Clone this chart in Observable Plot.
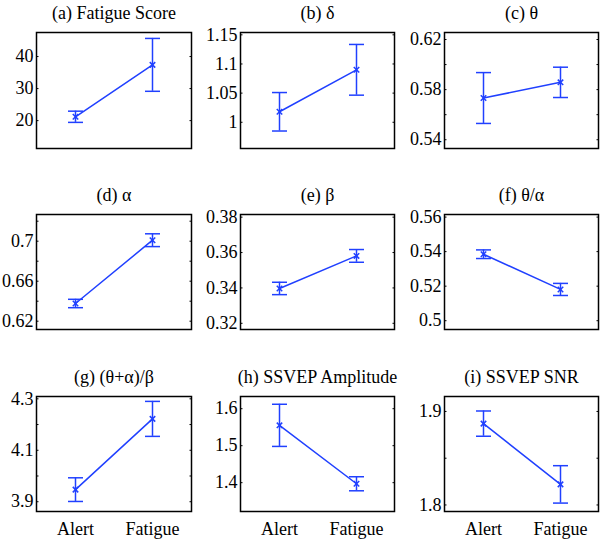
<!DOCTYPE html>
<html>
<head>
<meta charset="utf-8">
<script src="https://cdn.jsdelivr.net/npm/d3@7"></script>
<script src="https://cdn.jsdelivr.net/npm/@observablehq/plot@0.6"></script>
<style>
  body { margin: 0; background: #fff; }
  #chart { position: relative; width: 600px; height: 539px; background: #fff; overflow: hidden;
           font-family: "Liberation Serif", "Times New Roman", Times, serif; }
  #chart > div { position: absolute; }
  #chart svg { overflow: visible; max-width: none; }
  #chart svg, #chart svg text { font-family: "Liberation Serif", "Times New Roman", Times, serif !important; }
</style>
</head>
<body>
<div id="chart"></div>
<script>
// ---------------- data ----------------
const groups = ["Alert", "Fatigue"];
const titles = ["(a) Fatigue Score", "(b) δ", "(c) θ", "(d) α", "(e) β", "(f) θ/α",
                "(g) (θ+α)/β", "(h) SSVEP Amplitude", "(i) SSVEP SNR"];
const alertMean   = [21.2, 1.018, 0.5733, 0.6377, 0.3397, 0.5385, 3.947, 1.555, 1.887];
const fatigueMean = [37.4, 1.090, 0.5858, 0.7010, 0.3581, 0.5181, 4.222, 1.397, 1.822];
const alertErr    = [1.75, 0.033, 0.0203, 0.0042, 0.0035, 0.0025, 0.046, 0.057, 0.0135];
const fatigueErr  = [8.25, 0.0435, 0.0121, 0.0064, 0.0036, 0.0035, 0.068, 0.019, 0.020];
const yDomains = [[11.3, 47.5], [0.955, 1.154], [0.533, 0.6256], [0.6117, 0.7267], [0.3165, 0.3815],
                  [0.4949, 0.5615], [3.862, 4.309], [1.322, 1.633], [1.793, 1.916]];
const yTicks = [
  [20, 30, 40], [1, 1.05, 1.1, 1.15], [0.54, 0.56, 0.58, 0.6, 0.62], [0.62, 0.64, 0.66, 0.68, 0.7, 0.72],
  [0.32, 0.34, 0.36, 0.38], [0.5, 0.52, 0.54, 0.56], [3.9, 4.0, 4.1, 4.2, 4.3], [1.4, 1.5, 1.6], [1.8, 1.85, 1.9]
];
const yTickLabels = [
  [20, 30, 40], [1, 1.05, 1.1, 1.15], [0.54, 0.58, 0.62], [0.62, 0.66, 0.7],
  [0.32, 0.34, 0.36, 0.38], [0.5, 0.52, 0.54, 0.56], [3.9, 4.1, 4.3], [1.4, 1.5, 1.6], [1.8, 1.9]
];

// ---------------- layout ----------------
const blue = "#2040ff";
const font = '"Liberation Serif", "Times New Roman", Times, serif';
const fs = 18;
const boxLeft = [36, 240, 444], boxW = [155, 154, 154];
const boxTop = [32, 214, 396], boxH = [116, 115, 115];
const cap = { draw(ctx) { ctx.moveTo(-7.5, 0); ctx.lineTo(7.5, 0); } };

const chart = document.getElementById("chart");
titles.forEach((title, i) => {
  const row = Math.floor(i / 3), col = i % 3;
  const ML = 36, MT = 32, MR = 4, MB = row === 2 ? 32 : 4;
  const data = groups.map((g, j) => ({
    group: g,
    mean: j ? fatigueMean[i] : alertMean[i],
    err: j ? fatigueErr[i] : alertErr[i]
  }));
  const width = ML + boxW[col] + MR, height = MT + boxH[row] + MB;
  const svg = Plot.plot({
    width, height,
    marginLeft: ML, marginTop: MT, marginRight: MR, marginBottom: MB,
    style: { fontFamily: font, fontSize: fs + "px", background: "transparent", color: "black", overflow: "visible" },
    x: { type: "point", domain: groups, padding: 0.5, ...(row === 2 ? {} : { axis: null }) },
    y: { domain: yDomains[i] },
    marks: [
      Plot.axisY(yTicks[i], { anchor: "left", tickSize: -2.5, tickFormat: () => "", label: null }),
      Plot.axisY(yTicks[i], { anchor: "right", tickSize: -2.5, tickFormat: () => "", label: null }),
      Plot.axisY(yTickLabels[i], { anchor: "left", tickSize: 0, tickPadding: 3, fontSize: fs,
                                   tickFormat: d => String(d), label: null }),
      row === 2 ? Plot.axisX({ anchor: "bottom", tickSize: 0, tickPadding: 11, fontSize: fs, label: null }) : null,
      Plot.ruleX(data, { x: "group", y1: d => d.mean - d.err, y2: d => d.mean + d.err, stroke: blue, strokeWidth: 1.5 }),
      Plot.dot(data, { x: "group", y: d => d.mean - d.err, symbol: cap, r: 3, stroke: blue, strokeWidth: 1.5 }),
      Plot.dot(data, { x: "group", y: d => d.mean + d.err, symbol: cap, r: 3, stroke: blue, strokeWidth: 1.5 }),
      Plot.line(data, { x: "group", y: "mean", stroke: blue, strokeWidth: 1.5 }),
      Plot.dot(data, { x: "group", y: "mean", symbol: "times", r: 2.6, stroke: blue, strokeWidth: 1.5 }),
      Plot.frame({ stroke: "black", strokeWidth: 1.5 }),
      Plot.text([title], { frameAnchor: "top", lineAnchor: "middle", dy: -19, fontSize: fs, text: d => d, fill: "black" })
    ]
  });
  const div = document.createElement("div");
  div.style.left = (boxLeft[col] - ML) + "px";
  div.style.top = (boxTop[row] - MT) + "px";
  div.style.width = width + "px";
  div.style.height = height + "px";
  div.appendChild(svg);
  chart.appendChild(div);
});
</script>
</body>
</html>
